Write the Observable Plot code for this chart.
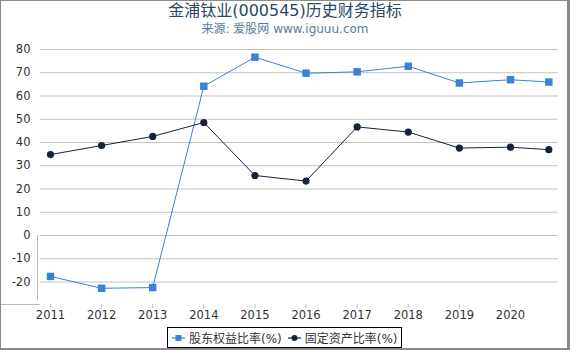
<!DOCTYPE html>
<html>
<head>
<meta charset="utf-8">
<script src="https://cdn.jsdelivr.net/npm/d3@7"></script>
<script src="https://cdn.jsdelivr.net/npm/@observablehq/plot@0.6"></script>
<style>
  body { margin: 0; background: #fff; }
  #wrap { position: relative; width: 570px; height: 350px; overflow: hidden; background: #fff;
          font-family: "DejaVu Sans", "Noto Sans CJK SC", sans-serif; }
  #border { position: absolute; left: 0; top: 0; width: 570px; height: 350px; box-sizing: border-box;
            border-style: solid; border-color: #8a8a8a; border-width: 1px 3px 2px 1px; pointer-events: none; }
  #title { position: absolute; left: 0; top: 1px; width: 570px; text-align: center; font-size: 16px;
           color: #2b4766; line-height: 20px; }
  #subtitle { position: absolute; left: 0; top: 21px; width: 570px; text-align: center; font-size: 12px;
              color: #5b7b9c; line-height: 16px; }
  #chart { position: absolute; left: 0; top: 40px; }
  #legend { position: absolute; left: 167px; top: 327px; width: 235px; height: 21px; box-sizing: border-box;
            border: 1px solid #000; font-size: 12px; color: #333; display: flex; align-items: center;
            padding-left: 4px; white-space: nowrap; }
  .item { display: flex; align-items: center; }
  .item svg { margin-right: 4px; }
</style>
</head>
<body>
<div id="wrap">
  <div id="title">金浦钛业(000545)历史财务指标</div>
  <div id="subtitle">来源: 爱股网 www.iguuu.com</div>
  <div id="chart"></div>
  <div id="legend"></div>
  <div id="border"></div>
</div>
<script>
// Data (last point is a partial-year reading, ~2020-09-30)
const years = [2011, 2012, 2013, 2014, 2015, 2016, 2017, 2018, 2019, 2020, 2020.75];
const equityRatio = [-17.6, -22.7, -22.4, 64.2, 76.7, 69.8, 70.4, 72.8, 65.6, 67.0, 66.0];
const fixedAssetRatio = [34.8, 38.7, 42.6, 48.6, 25.8, 23.4, 46.7, 44.5, 37.6, 38.0, 36.9];
const xTickLabels = [2011, 2012, 2013, 2014, 2015, 2016, 2017, 2018, 2019, 2020];
const yTickValues = [-20, -10, 0, 10, 20, 30, 40, 50, 60, 70, 80];
const seriesNames = ["股东权益比率(%)", "固定资产比率(%)"];
const colors = ["#3a81d8", "#14233a"];

const s1 = years.map((x, i) => ({x, y: equityRatio[i]}));
const s2 = years.map((x, i) => ({x, y: fixedAssetRatio[i]}));

const xDomain = [2010.746, 2020.939];
const yDomain = [-29.68, 81.72];

const chart = Plot.plot({
  width: 570,
  height: 285,
  marginLeft: 37,
  marginRight: 12,
  marginTop: 5,
  marginBottom: 21,
  x: {type: "linear", domain: xDomain},
  y: {domain: yDomain},
  style: {fontFamily: "DejaVu Sans, sans-serif", fontSize: "11.5px", color: "#333", background: "transparent", overflow: "visible"},
  marks: [
    Plot.gridY(yTickValues, {stroke: "#c3c3c3", strokeOpacity: 1, strokeWidth: 1, x1: 2010.80}),
    Plot.ruleX([xDomain[0]], {stroke: "#bcbcbc", strokeWidth: 1, y2: -28.1}),
    Plot.ruleY([yDomain[0]], {stroke: "#bcbcbc", strokeWidth: 1, x1: 2010.80}),
    Plot.axisX(xTickLabels, {tickSize: 4, tickPadding: 2, stroke: "#bcbcbc", tickFormat: d => String(d), label: null, fill: "#333"}),
    Plot.axisY(yTickValues, {tickSize: 0, tickPadding: 7, label: null, fill: "#333", tickFormat: d => String(d)}),
    Plot.line(s1, {x: "x", y: "y", stroke: colors[0], strokeWidth: 1}),
    Plot.dot(s1, {x: "x", y: "y", symbol: "square", fill: colors[0], r: 4.2, stroke: "none"}),
    Plot.line(s2, {x: "x", y: "y", stroke: colors[1], strokeWidth: 1}),
    Plot.dot(s2, {x: "x", y: "y", symbol: "circle", fill: colors[1], r: 3.6, stroke: "none"})
  ]
});
document.getElementById("chart").appendChild(chart);

// Legend
const legend = document.getElementById("legend");
seriesNames.forEach((name, i) => {
  const item = document.createElement("div");
  item.className = "item";
  if (i > 0) item.style.marginLeft = "6px";
  const sym = i === 0
    ? `<rect x="3.5" y="4" width="6" height="6" fill="${colors[0]}"/>`
    : `<circle cx="6.5" cy="7" r="3" fill="${colors[1]}"/>`;
  item.innerHTML = `<svg width="13" height="14"><line x1="0" x2="13" y1="7" y2="7" stroke="${colors[i]}" stroke-width="1.2"/>${sym}</svg><span>${name}</span>`;
  legend.appendChild(item);
});
</script>
</body>
</html>
